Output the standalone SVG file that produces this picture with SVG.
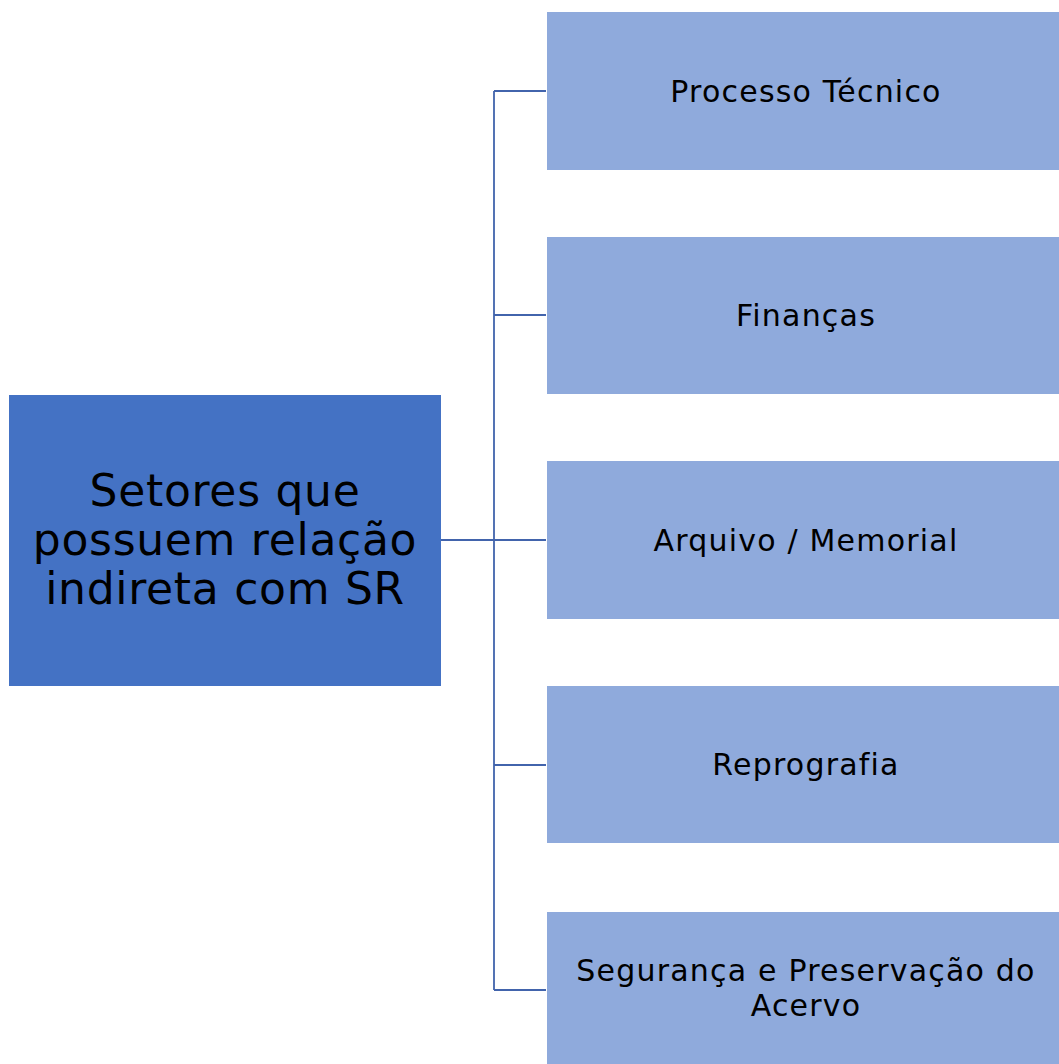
<svg xmlns="http://www.w3.org/2000/svg" width="1059" height="1064" viewBox="0 0 1059 1064">
<style>
.root{fill:#4472C4}
.child{fill:#8FAADC}
.t{font-family:"DejaVu Sans","Liberation Sans",sans-serif;fill:#000;text-anchor:middle}
.big{font-size:44px;letter-spacing:0.7px}
.small{font-size:30px;letter-spacing:1.2px}
.conn{stroke:#4264AC;stroke-width:1.8;fill:none}
</style>
<rect width="1059" height="1064" fill="#fff"/>
<g id="connectors">
<path class="conn" d="M441 540H494M494 91V990M494 91H546M494 315H546M494 540H546M494 765H546M494 990H546"/>
</g>
<g id="root">
<rect class="root" x="9" y="395" width="432" height="291"/>
<text class="t big" x="225" y="506">Setores que</text>
<text class="t big" x="225" y="555">possuem relação</text>
<text class="t big" x="225" y="604">indireta com SR</text>
</g>
<g id="n1">
<rect class="child" x="547" y="12" width="516" height="158"/>
<text class="t small" x="806" y="102">Processo Técnico</text>
</g>
<g id="n2">
<rect class="child" x="547" y="237" width="516" height="157"/>
<text class="t small" x="806" y="326">Finanças</text>
</g>
<g id="n3">
<rect class="child" x="547" y="461" width="516" height="158"/>
<text class="t small" x="806" y="551">Arquivo / Memorial</text>
</g>
<g id="n4">
<rect class="child" x="547" y="686" width="516" height="157"/>
<text class="t small" x="806" y="775">Reprografia</text>
</g>
<g id="n5">
<rect class="child" x="547" y="912" width="516" height="160"/>
<text class="t small" x="806" y="981">Segurança e Preservação do</text>
<text class="t small" x="806" y="1016">Acervo</text>
</g>
</svg>
